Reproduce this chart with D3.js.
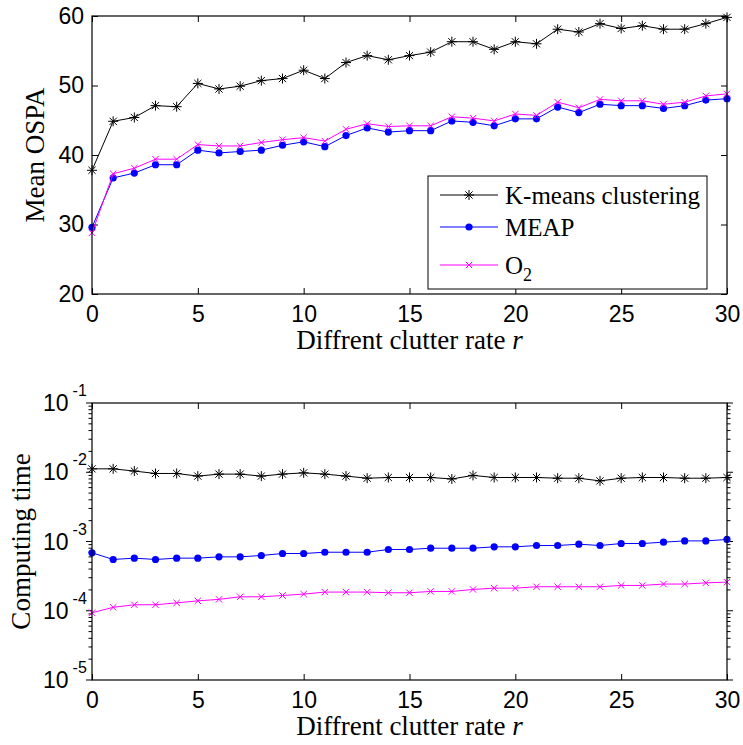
<!DOCTYPE html>
<html lang="en">
<head>
<meta charset="utf-8">
<script src="https://d3js.org/d3.v7.min.js"></script>
<style type="text/css">
body {
	margin: 0;
	background-color: white;
}
.tick text {
	font-family: "Liberation Sans", Arial, sans-serif;
	font-size: 23px;
	fill: black;
}
.lab {
	font-family: "Liberation Serif", "Times New Roman", serif;
	font-size: 27px;
	fill: black;
}
.leg {
	font-family: "Liberation Serif", "Times New Roman", serif;
	font-size: 25px;
	fill: black;
}
</style>
</head>
<body>
<svg id="chart"></svg>
<script type="text/javascript">

// clutter rate r = 0..30
var rates = d3.range(0, 31);

// mean OSPA
var ospaKmeans = [37.8, 44.85, 45.4, 47.1, 46.95, 50.3, 49.5, 49.9, 50.7, 51.0, 52.2,
	51.0, 53.3, 54.3, 53.7, 54.3, 54.8, 56.3, 56.3, 55.2, 56.3,
	56.0, 58.1, 57.7, 58.9, 58.2, 58.6, 58.1, 58.1, 58.9, 59.8];
var ospaMeap = [29.6, 36.7, 37.4, 38.6, 38.6, 40.7, 40.3, 40.5, 40.7, 41.4, 41.9,
	41.2, 42.8, 43.9, 43.3, 43.5, 43.5, 44.9, 44.7, 44.2, 45.2,
	45.2, 46.9, 46.1, 47.3, 47.1, 47.1, 46.7, 47.1, 47.9, 48.1];
var ospaO2 = [28.8, 37.3, 38.1, 39.4, 39.4, 41.5, 41.3, 41.3, 41.8, 42.2, 42.5,
	42.0, 43.7, 44.5, 44.1, 44.2, 44.2, 45.5, 45.3, 44.9, 45.9,
	45.7, 47.6, 46.8, 48.0, 47.8, 47.8, 47.3, 47.6, 48.5, 48.8];

// computing time (s)
var timeKmeans = [0.0112, 0.0112, 0.0104, 0.0096, 0.0096, 0.0088, 0.0094, 0.0094, 0.0088, 0.0094, 0.0098,
	0.0094, 0.0088, 0.0082, 0.0084, 0.0084, 0.0084, 0.0080, 0.0090, 0.0084, 0.0084,
	0.0084, 0.0082, 0.0082, 0.0075, 0.0082, 0.0084, 0.0084, 0.0082, 0.0082, 0.0084];
var timeMeap = [6.87e-4, 5.5e-4, 5.75e-4, 5.5e-4, 5.75e-4, 5.75e-4, 6.0e-4, 6.0e-4, 6.28e-4, 6.71e-4, 6.71e-4,
	7.0e-4, 7.0e-4, 7.0e-4, 7.67e-4, 7.67e-4, 8.0e-4, 8.0e-4, 8.0e-4, 8.38e-4, 8.38e-4,
	8.75e-4, 8.75e-4, 9.15e-4, 8.75e-4, 9.35e-4, 9.35e-4, 9.78e-4, 1.02e-3, 1.02e-3, 1.07e-3];
var timeO2 = [9.35e-5, 1.12e-4, 1.22e-4, 1.22e-4, 1.30e-4, 1.39e-4, 1.46e-4, 1.59e-4, 1.59e-4, 1.66e-4, 1.74e-4,
	1.86e-4, 1.86e-4, 1.86e-4, 1.82e-4, 1.82e-4, 1.90e-4, 1.90e-4, 2.03e-4, 2.12e-4, 2.12e-4,
	2.22e-4, 2.22e-4, 2.22e-4, 2.22e-4, 2.32e-4, 2.32e-4, 2.43e-4, 2.43e-4, 2.53e-4, 2.59e-4];

var seriesNames = ["K-means clustering", "MEAP", "O2"];
var seriesColors = ["#000000", "#0000ff", "#ff00ff"];
var seriesMarkers = ["star", "dot", "cross"];
var xTicks = [0, 5, 10, 15, 20, 25, 30];
var ospaTicks = [20, 30, 40, 50, 60];

var width = 743, height = 745;
var svg = d3.select("#chart").attr("width", width).attr("height", height);

var left = 92, right = 727;
var x = d3.scaleLinear().domain([0, 30]).range([left, right]);

// marker drawing
function marker(g, kind, color, cx, cy) {
	if (kind == "star") {
		var r = 5, d = 3.6;
		g.append("path")
			.attr("d", "M" + (cx - r) + "," + cy + "H" + (cx + r) + "M" + cx + "," + (cy - r) + "V" + (cy + r) +
				"M" + (cx - d) + "," + (cy - d) + "L" + (cx + d) + "," + (cy + d) +
				"M" + (cx - d) + "," + (cy + d) + "L" + (cx + d) + "," + (cy - d))
			.style("stroke", color).style("stroke-width", 1).style("fill", "none");
	} else if (kind == "dot") {
		g.append("circle").attr("cx", cx).attr("cy", cy).attr("r", 3.6).style("fill", color);
	} else {
		var s = 3.2;
		g.append("path")
			.attr("d", "M" + (cx - s) + "," + (cy - s) + "L" + (cx + s) + "," + (cy + s) +
				"M" + (cx - s) + "," + (cy + s) + "L" + (cx + s) + "," + (cy - s))
			.style("stroke", color).style("stroke-width", 1).style("fill", "none");
	}
}

function drawSeries(g, y, values, i) {
	var line = d3.line()
		.x(function(d, j) { return x(rates[j]); })
		.y(function(d) { return y(d); });
	g.append("path")
		.datum(values)
		.attr("d", line)
		.style("fill", "none")
		.style("stroke", seriesColors[i])
		.style("stroke-width", 1);
	values.forEach(function(v, j) {
		marker(g, seriesMarkers[i], seriesColors[i], x(rates[j]), y(v));
	});
}

function frame(g, top, bottom) {
	g.append("rect")
		.attr("x", left).attr("y", top)
		.attr("width", right - left).attr("height", bottom - top)
		.style("fill", "none").style("stroke", "black").style("stroke-width", 1.2);
}

function xAxes(g, top, bottom) {
	g.append("g")
		.attr("transform", "translate(0," + bottom + ")")
		.call(d3.axisBottom(x).tickValues(xTicks).tickSize(-6).tickSizeOuter(0).tickPadding(12))
		.call(function(a) { a.select(".domain").remove(); });
	g.append("g")
		.attr("transform", "translate(0," + top + ")")
		.call(d3.axisTop(x).tickValues(xTicks).tickSize(-6).tickSizeOuter(0).tickFormat(""))
		.call(function(a) { a.select(".domain").remove(); });
}

// ---------- top plot ----------
var top1 = 16, bottom1 = 294;
var y1 = d3.scaleLinear().domain([20, 60]).range([bottom1, top1]);
var g1 = svg.append("g");

xAxes(g1, top1, bottom1);
g1.append("g")
	.attr("transform", "translate(" + left + ",0)")
	.call(d3.axisLeft(y1).tickValues(ospaTicks).tickSize(-6).tickSizeOuter(0).tickPadding(8))
	.call(function(a) { a.select(".domain").remove(); });
g1.append("g")
	.attr("transform", "translate(" + right + ",0)")
	.call(d3.axisRight(y1).tickValues(ospaTicks).tickSize(-6).tickSizeOuter(0).tickFormat(""))
	.call(function(a) { a.select(".domain").remove(); });

[ospaKmeans, ospaMeap, ospaO2].forEach(function(vals, i) { drawSeries(g1, y1, vals, i); });
frame(g1, top1, bottom1);

// legend
var lg = g1.append("g");
lg.append("rect")
	.attr("x", 428).attr("y", 176).attr("width", 279).attr("height", 113)
	.style("fill", "white").style("stroke", "black").style("stroke-width", 1);
var legRows = [195, 227, 265];
seriesNames.forEach(function(name, i) {
	var yy = legRows[i];
	lg.append("line")
		.attr("x1", 440).attr("x2", 498).attr("y1", yy).attr("y2", yy)
		.style("stroke", seriesColors[i]).style("stroke-width", 1);
	marker(lg, seriesMarkers[i], seriesColors[i], 469, yy);
	var t = lg.append("text").attr("class", "leg").attr("x", 505).attr("y", yy + 9);
	if (name == "O2") {
		t.append("tspan").text("O");
		t.append("tspan").attr("dy", 7).style("font-size", "18px").text("2");
	} else {
		t.text(name);
	}
});

g1.append("text").attr("class", "lab")
	.attr("transform", "translate(44," + ((top1 + bottom1) / 2) + ") rotate(-90)")
	.attr("text-anchor", "middle")
	.text("Mean OSPA");

function xLabel(g, yy) {
	var t = g.append("text").attr("class", "lab")
		.attr("x", (left + right) / 2).attr("y", yy)
		.attr("text-anchor", "middle");
	t.append("tspan").text("Diffrent clutter rate ");
	t.append("tspan").style("font-style", "italic").text("r");
}
xLabel(g1, 349);

// ---------- bottom plot ----------
var top2 = 403, bottom2 = 680;
var y2 = d3.scaleLog().domain([1e-5, 1e-1]).range([bottom2, top2]);
var g2 = svg.append("g");

xAxes(g2, top2, bottom2);

var allTicks = y2.ticks();
var majors = allTicks.filter(function(v) { return Math.abs(Math.log10(v) - Math.round(Math.log10(v))) < 1e-9; });
var minors = allTicks.filter(function(v) { return majors.indexOf(v) < 0; });

[[left, -1], [right, 1]].forEach(function(side) {
	var sx = side[0], dir = side[1];
	g2.selectAll(null).data(majors).enter().append("line")
		.attr("x1", sx).attr("x2", sx + dir * 6)
		.attr("y1", function(d) { return y2(d); }).attr("y2", function(d) { return y2(d); })
		.style("stroke", "black").style("stroke-width", 1);
	g2.selectAll(null).data(minors).enter().append("line")
		.attr("x1", sx).attr("x2", sx + dir * 3.5)
		.attr("y1", function(d) { return y2(d); }).attr("y2", function(d) { return y2(d); })
		.style("stroke", "black").style("stroke-width", 1);
});

// left tick labels 10^n
majors.forEach(function(v) {
	var e = Math.round(Math.log10(v));
	var t = g2.append("text")
		.attr("x", 43).attr("y", y2(v) + 8)
		.style("font-family", "Liberation Sans, Arial, sans-serif")
		.style("font-size", "23px");
	t.append("tspan").text("10");
	t.append("tspan").attr("dy", -15).attr("dx", 4).style("font-size", "16px").text(String(e));
});

[timeKmeans, timeMeap, timeO2].forEach(function(vals, i) { drawSeries(g2, y2, vals, i); });
frame(g2, top2, bottom2);

g2.append("text").attr("class", "lab")
	.attr("transform", "translate(30," + ((top2 + bottom2) / 2) + ") rotate(-90)")
	.attr("text-anchor", "middle")
	.text("Computing time");
xLabel(g2, 735);

</script>
</body>
</html>
